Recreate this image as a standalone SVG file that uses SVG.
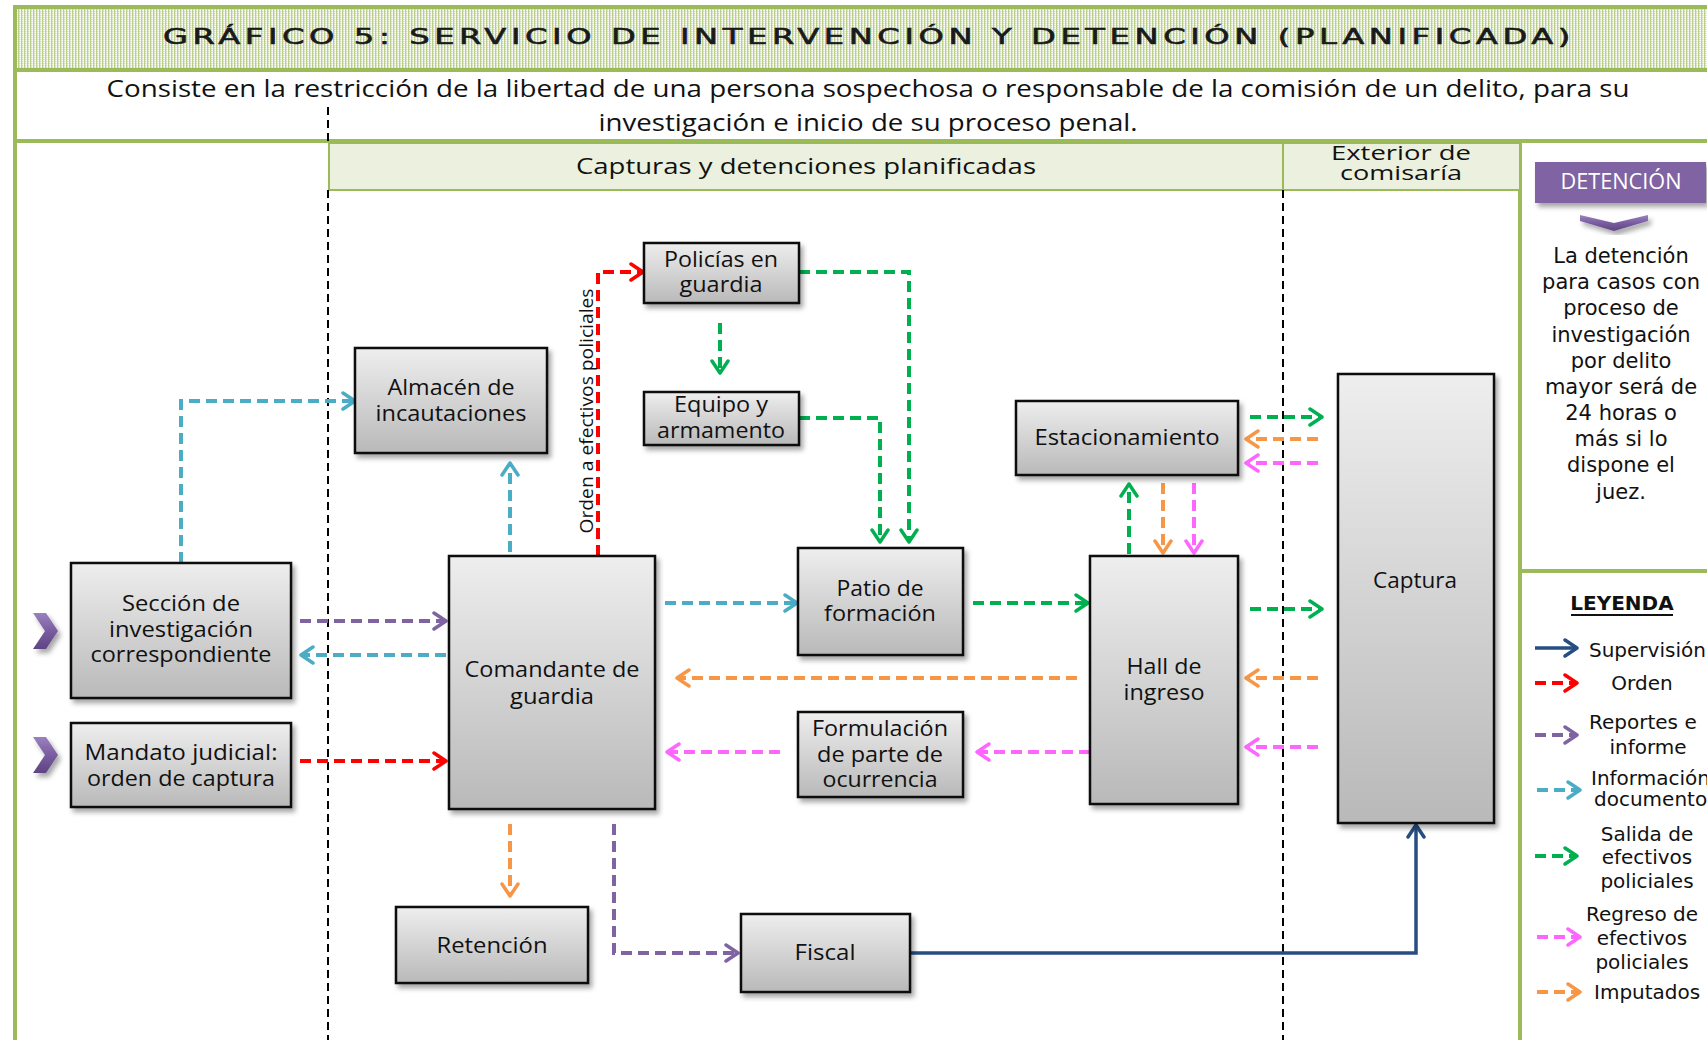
<svg xmlns="http://www.w3.org/2000/svg" width="1707" height="1040" viewBox="0 0 1707 1040">
<defs>
<style>
.nt{font-family:"Open Sans","Liberation Sans",sans-serif;font-size:21px;fill:#111;text-anchor:middle}
.node rect{fill:url(#ng);stroke:#111;stroke-width:2.5;filter:url(#sh)}
.c{fill:none;stroke-width:4;stroke-dasharray:11 6}
.cy{stroke:#4bacc6;marker-end:url(#mcy)}
.pu{stroke:#8064a2;marker-end:url(#mpu)}
.rd{stroke:#ff0000;marker-end:url(#mrd)}
.gr{stroke:#00b050;marker-end:url(#mgr)}
.or{stroke:#f79646;marker-end:url(#mor)}
.mg{stroke:#ff66ff;marker-end:url(#mmg)}
.nv{fill:none;stroke:#264e82;stroke-width:3.5;marker-end:url(#mnv)}
.frame{stroke:#9bbb59;stroke-width:4;fill:none}
.vd{stroke:#000;stroke-width:2;stroke-dasharray:8 5;fill:none}
.pt{font-family:"DejaVu Sans","Liberation Sans",sans-serif;font-size:21px;fill:#111;text-anchor:middle}
.lg{font-family:"DejaVu Sans","Liberation Sans",sans-serif;font-size:20px;fill:#111}
.band{fill:#ebf1de;stroke:#9bbb59;stroke-width:2}
.chev{fill:url(#pg);filter:url(#sh)}
</style>
<pattern id="tp" width="3" height="2" patternUnits="userSpaceOnUse">
<rect width="3" height="2" fill="#e9f0d9"/>
<rect x="0" y="0" width="1" height="2" fill="#b9cf8a"/>
<rect x="2" y="0" width="1" height="1" fill="#ffffff"/>
<rect x="1" y="1" width="1" height="1" fill="#d0dfae"/>
</pattern>
<linearGradient id="ng" x1="0" y1="0" x2="0" y2="1">
<stop offset="0" stop-color="#eeeeee"/>
<stop offset="1" stop-color="#b9b9b9"/>
</linearGradient>
<linearGradient id="pg" x1="0" y1="0" x2="0" y2="1">
<stop offset="0" stop-color="#9a82bd"/>
<stop offset="0.5" stop-color="#7a5ca0"/>
<stop offset="1" stop-color="#5e4482"/>
</linearGradient>
<filter id="sh" x="-15%" y="-15%" width="140%" height="140%">
<feDropShadow dx="3" dy="4" stdDeviation="2.5" flood-color="#000" flood-opacity="0.35"/>
</filter>
<marker id="mcy" viewBox="-14 -10 20 20" refX="0" refY="0" markerWidth="20" markerHeight="20" markerUnits="userSpaceOnUse" orient="auto"><path d="M-10,-8 L2,0 L-10,8" fill="none" stroke="#4bacc6" stroke-width="3.5" stroke-linecap="round" stroke-linejoin="round"/></marker>
<marker id="mpu" viewBox="-14 -10 20 20" refX="0" refY="0" markerWidth="20" markerHeight="20" markerUnits="userSpaceOnUse" orient="auto"><path d="M-10,-8 L2,0 L-10,8" fill="none" stroke="#8064a2" stroke-width="3.5" stroke-linecap="round" stroke-linejoin="round"/></marker>
<marker id="mrd" viewBox="-14 -10 20 20" refX="0" refY="0" markerWidth="20" markerHeight="20" markerUnits="userSpaceOnUse" orient="auto"><path d="M-10,-8 L2,0 L-10,8" fill="none" stroke="#ff0000" stroke-width="3.5" stroke-linecap="round" stroke-linejoin="round"/></marker>
<marker id="mgr" viewBox="-14 -10 20 20" refX="0" refY="0" markerWidth="20" markerHeight="20" markerUnits="userSpaceOnUse" orient="auto"><path d="M-10,-8 L2,0 L-10,8" fill="none" stroke="#00b050" stroke-width="3.5" stroke-linecap="round" stroke-linejoin="round"/></marker>
<marker id="mor" viewBox="-14 -10 20 20" refX="0" refY="0" markerWidth="20" markerHeight="20" markerUnits="userSpaceOnUse" orient="auto"><path d="M-10,-8 L2,0 L-10,8" fill="none" stroke="#f79646" stroke-width="3.5" stroke-linecap="round" stroke-linejoin="round"/></marker>
<marker id="mmg" viewBox="-14 -10 20 20" refX="0" refY="0" markerWidth="20" markerHeight="20" markerUnits="userSpaceOnUse" orient="auto"><path d="M-10,-8 L2,0 L-10,8" fill="none" stroke="#ff66ff" stroke-width="3.5" stroke-linecap="round" stroke-linejoin="round"/></marker>
<marker id="mnv" viewBox="-14 -10 20 20" refX="0" refY="0" markerWidth="20" markerHeight="20" markerUnits="userSpaceOnUse" orient="auto"><path d="M-10,-8 L2,0 L-10,8" fill="none" stroke="#264e82" stroke-width="3.5" stroke-linecap="round" stroke-linejoin="round"/></marker>
</defs>

<rect width="1707" height="1040" fill="#ffffff"/>

<g id="frame">
<rect x="15" y="7" width="1700" height="63" fill="url(#tp)"/>
<path class="frame" d="M15,5 V1040 M13,7 H1707 M13,70 H1707 M13,141 H1707 M1520,141 V1040 M1520,571 H1707"/>
<text x="869" y="44" font-family="DejaVu Sans, sans-serif" font-size="21" letter-spacing="3" fill="#1a1a1a" stroke="#1a1a1a" stroke-width="0.6" text-anchor="middle" textLength="1412" lengthAdjust="spacingAndGlyphs">GRÁFICO 5: SERVICIO DE INTERVENCIÓN Y DETENCIÓN (PLANIFICADA)</text>
<text x="868" y="97" font-family="Open Sans, Liberation Sans, sans-serif" font-size="23" fill="#111" text-anchor="middle" textLength="1523" lengthAdjust="spacingAndGlyphs">Consiste en la restricción de la libertad de una persona sospechosa o responsable de la comisión de un delito, para su</text>
<text x="868" y="131" font-family="Open Sans, Liberation Sans, sans-serif" font-size="23" fill="#111" text-anchor="middle" textLength="539" lengthAdjust="spacingAndGlyphs">investigación e inicio de su proceso penal.</text>
<rect class="band" x="329" y="143" width="954" height="47"/>
<rect class="band" x="1283" y="143" width="237" height="47"/>
<text x="806" y="174" font-family="Open Sans, Liberation Sans, sans-serif" font-size="22" fill="#111" text-anchor="middle" textLength="460" lengthAdjust="spacingAndGlyphs">Capturas y detenciones planificadas</text>
<text font-family="Open Sans, Liberation Sans, sans-serif" font-size="20" fill="#111" text-anchor="middle"><tspan x="1401" y="160" textLength="140" lengthAdjust="spacingAndGlyphs">Exterior de</tspan><tspan x="1401" y="180" textLength="122" lengthAdjust="spacingAndGlyphs">comisaría</tspan></text>
<path class="vd" d="M328,107 V143 M328,190 V1040 M1283,190 V1040"/>
</g>

<g id="decor">
<polygon class="chev" points="33,613 46,613 58,631 46,649 33,649 45,631"/>
<polygon class="chev" points="33,737 46,737 58,755 46,773 33,773 45,755"/>
</g>

<g id="connectors">
<path class="c cy" d="M181,563 V401 H353"/>
<path class="c pu" d="M300,621 H444"/>
<path class="c cy" d="M446,655 H303"/>
<path class="c rd" d="M300,761 H444"/>
<path class="c cy" d="M510,552 V465"/>
<path class="c rd" d="M598,556 V272 H641"/>
<text transform="translate(587,411) rotate(-90)" x="0" y="6" font-family="Open Sans, Liberation Sans, sans-serif" font-size="19" fill="#111" text-anchor="middle" textLength="245" lengthAdjust="spacingAndGlyphs">Orden a efectivos policiales</text>
<path class="c gr" d="M720,323 V371"/>
<path class="c gr" d="M799,272 H909 V540"/>
<path class="c gr" d="M799,418 H880 V540"/>
<path class="c cy" d="M665,603 H795"/>
<path class="c gr" d="M973,603 H1086"/>
<path class="c or" d="M1077,678 H679"/>
<path class="c mg" d="M1090,752 H979"/>
<path class="c mg" d="M780,752 H669"/>
<path class="c gr" d="M1129,554 V486"/>
<path class="c or" d="M1163,483 V551"/>
<path class="c mg" d="M1194,483 V551"/>
<path class="c gr" d="M1250,417 H1320"/>
<path class="c or" d="M1318,439 H1248"/>
<path class="c mg" d="M1318,463 H1248"/>
<path class="c gr" d="M1250,609 H1320"/>
<path class="c or" d="M1318,678 H1248"/>
<path class="c mg" d="M1318,747 H1248"/>
<path class="c or" d="M510,824 V894"/>
<path class="c pu" d="M614,824 V953 H736"/>
<path class="nv" d="M910,953 H1416 V827"/>
</g>

<g id="n-seccion" class="node">
<rect x="71" y="563" width="220" height="135"/>
<text class="nt"><tspan x="181" y="611" textLength="118" lengthAdjust="spacingAndGlyphs">Sección de</tspan><tspan x="181" y="637" textLength="144" lengthAdjust="spacingAndGlyphs">investigación</tspan><tspan x="181" y="662" textLength="181" lengthAdjust="spacingAndGlyphs">correspondiente</tspan></text>
</g>
<g id="n-mandato" class="node">
<rect x="71" y="723" width="220" height="84"/>
<text class="nt"><tspan x="181" y="760" textLength="193" lengthAdjust="spacingAndGlyphs">Mandato judicial:</tspan><tspan x="181" y="786" textLength="188" lengthAdjust="spacingAndGlyphs">orden de captura</tspan></text>
</g>
<g id="n-almacen" class="node">
<rect x="355" y="348" width="192" height="105"/>
<text class="nt"><tspan x="451" y="395" textLength="127" lengthAdjust="spacingAndGlyphs">Almacén de</tspan><tspan x="451" y="421" textLength="151" lengthAdjust="spacingAndGlyphs">incautaciones</tspan></text>
</g>
<g id="n-comandante" class="node">
<rect x="449" y="556" width="206" height="253"/>
<text class="nt"><tspan x="552" y="677" textLength="175" lengthAdjust="spacingAndGlyphs">Comandante de</tspan><tspan x="552" y="704" textLength="84" lengthAdjust="spacingAndGlyphs">guardia</tspan></text>
</g>
<g id="n-policias" class="node">
<rect x="644" y="243" width="155" height="60"/>
<text class="nt"><tspan x="721" y="267" textLength="114" lengthAdjust="spacingAndGlyphs">Policías en</tspan><tspan x="721" y="292" textLength="83" lengthAdjust="spacingAndGlyphs">guardia</tspan></text>
</g>
<g id="n-equipo" class="node">
<rect x="644" y="392" width="155" height="53"/>
<text class="nt"><tspan x="721" y="412" textLength="94" lengthAdjust="spacingAndGlyphs">Equipo y</tspan><tspan x="721" y="438" textLength="128" lengthAdjust="spacingAndGlyphs">armamento</tspan></text>
</g>
<g id="n-patio" class="node">
<rect x="798" y="548" width="165" height="107"/>
<text class="nt"><tspan x="880" y="596" textLength="87" lengthAdjust="spacingAndGlyphs">Patio de</tspan><tspan x="880" y="621" textLength="112" lengthAdjust="spacingAndGlyphs">formación</tspan></text>
</g>
<g id="n-formulacion" class="node">
<rect x="798" y="712" width="165" height="85"/>
<text class="nt"><tspan x="880" y="736" textLength="136" lengthAdjust="spacingAndGlyphs">Formulación</tspan><tspan x="880" y="762" textLength="126" lengthAdjust="spacingAndGlyphs">de parte de</tspan><tspan x="880" y="787" textLength="115" lengthAdjust="spacingAndGlyphs">ocurrencia</tspan></text>
</g>
<g id="n-estacionamiento" class="node">
<rect x="1016" y="401" width="222" height="74"/>
<text class="nt" x="1127" y="445" textLength="185" lengthAdjust="spacingAndGlyphs">Estacionamiento</text>
</g>
<g id="n-hall" class="node">
<rect x="1090" y="556" width="148" height="248"/>
<text class="nt"><tspan x="1164" y="674" textLength="75" lengthAdjust="spacingAndGlyphs">Hall de</tspan><tspan x="1164" y="700" textLength="81" lengthAdjust="spacingAndGlyphs">ingreso</tspan></text>
</g>
<g id="n-captura" class="node">
<rect x="1338" y="374" width="156" height="449"/>
<text class="nt" x="1415" y="588" textLength="84" lengthAdjust="spacingAndGlyphs">Captura</text>
</g>
<g id="n-retencion" class="node">
<rect x="396" y="907" width="192" height="76"/>
<text class="nt" x="492" y="953" textLength="111" lengthAdjust="spacingAndGlyphs">Retención</text>
</g>
<g id="n-fiscal" class="node">
<rect x="741" y="914" width="169" height="78"/>
<text class="nt" x="825" y="960" textLength="61" lengthAdjust="spacingAndGlyphs">Fiscal</text>
</g>

<g id="panel-detencion">
<rect x="1535" y="162" width="171" height="41" fill="#8064a2" filter="url(#sh)"/>
<text x="1621" y="189" font-family="Open Sans, Liberation Sans, sans-serif" font-size="21" fill="#ffffff" text-anchor="middle" textLength="121" lengthAdjust="spacingAndGlyphs">DETENCIÓN</text>
<polygon class="chev" points="1580,215 1614,223 1648,215 1648,221 1614,231 1580,221"/>
<text class="pt"><tspan x="1621" y="263">La detención</tspan><tspan x="1621" y="289">para casos con</tspan><tspan x="1621" y="315">proceso de</tspan><tspan x="1621" y="342">investigación</tspan><tspan x="1621" y="368">por delito</tspan><tspan x="1621" y="394">mayor será de</tspan><tspan x="1621" y="420">24 horas o</tspan><tspan x="1621" y="446">más si lo</tspan><tspan x="1621" y="472">dispone el</tspan><tspan x="1621" y="499">juez.</tspan></text>
</g>

<g id="legend">
<text x="1622" y="610" font-family="DejaVu Sans, sans-serif" font-size="20" font-weight="bold" fill="#111" text-anchor="middle">LEYENDA</text>
<line x1="1571" y1="615" x2="1673" y2="615" stroke="#111" stroke-width="2"/>
<path class="nv" d="M1535,648 H1575"/>
<text class="lg" x="1589" y="657">Supervisión</text>
<path class="c rd" d="M1535,683 H1575"/>
<text class="lg" x="1642" y="690" text-anchor="middle">Orden</text>
<path class="c pu" d="M1535,735 H1575"/>
<text class="lg"><tspan x="1589" y="729">Reportes e</tspan><tspan x="1648" y="754" text-anchor="middle">informe</tspan></text>
<path class="c cy" d="M1537,790 H1578"/>
<text class="lg" font-size="19"><tspan x="1591" y="785">Información</tspan><tspan x="1594" y="806">documento</tspan></text>
<path class="c gr" d="M1535,856 H1575"/>
<text class="lg" text-anchor="middle"><tspan x="1647" y="841">Salida de</tspan><tspan x="1647" y="864">efectivos</tspan><tspan x="1647" y="888">policiales</tspan></text>
<path class="c mg" d="M1537,937 H1578"/>
<text class="lg" text-anchor="middle"><tspan x="1642" y="921">Regreso de</tspan><tspan x="1642" y="945">efectivos</tspan><tspan x="1642" y="969">policiales</tspan></text>
<path class="c or" d="M1537,992 H1578"/>
<text class="lg" x="1594" y="999">Imputados</text>
</g>
</svg>
